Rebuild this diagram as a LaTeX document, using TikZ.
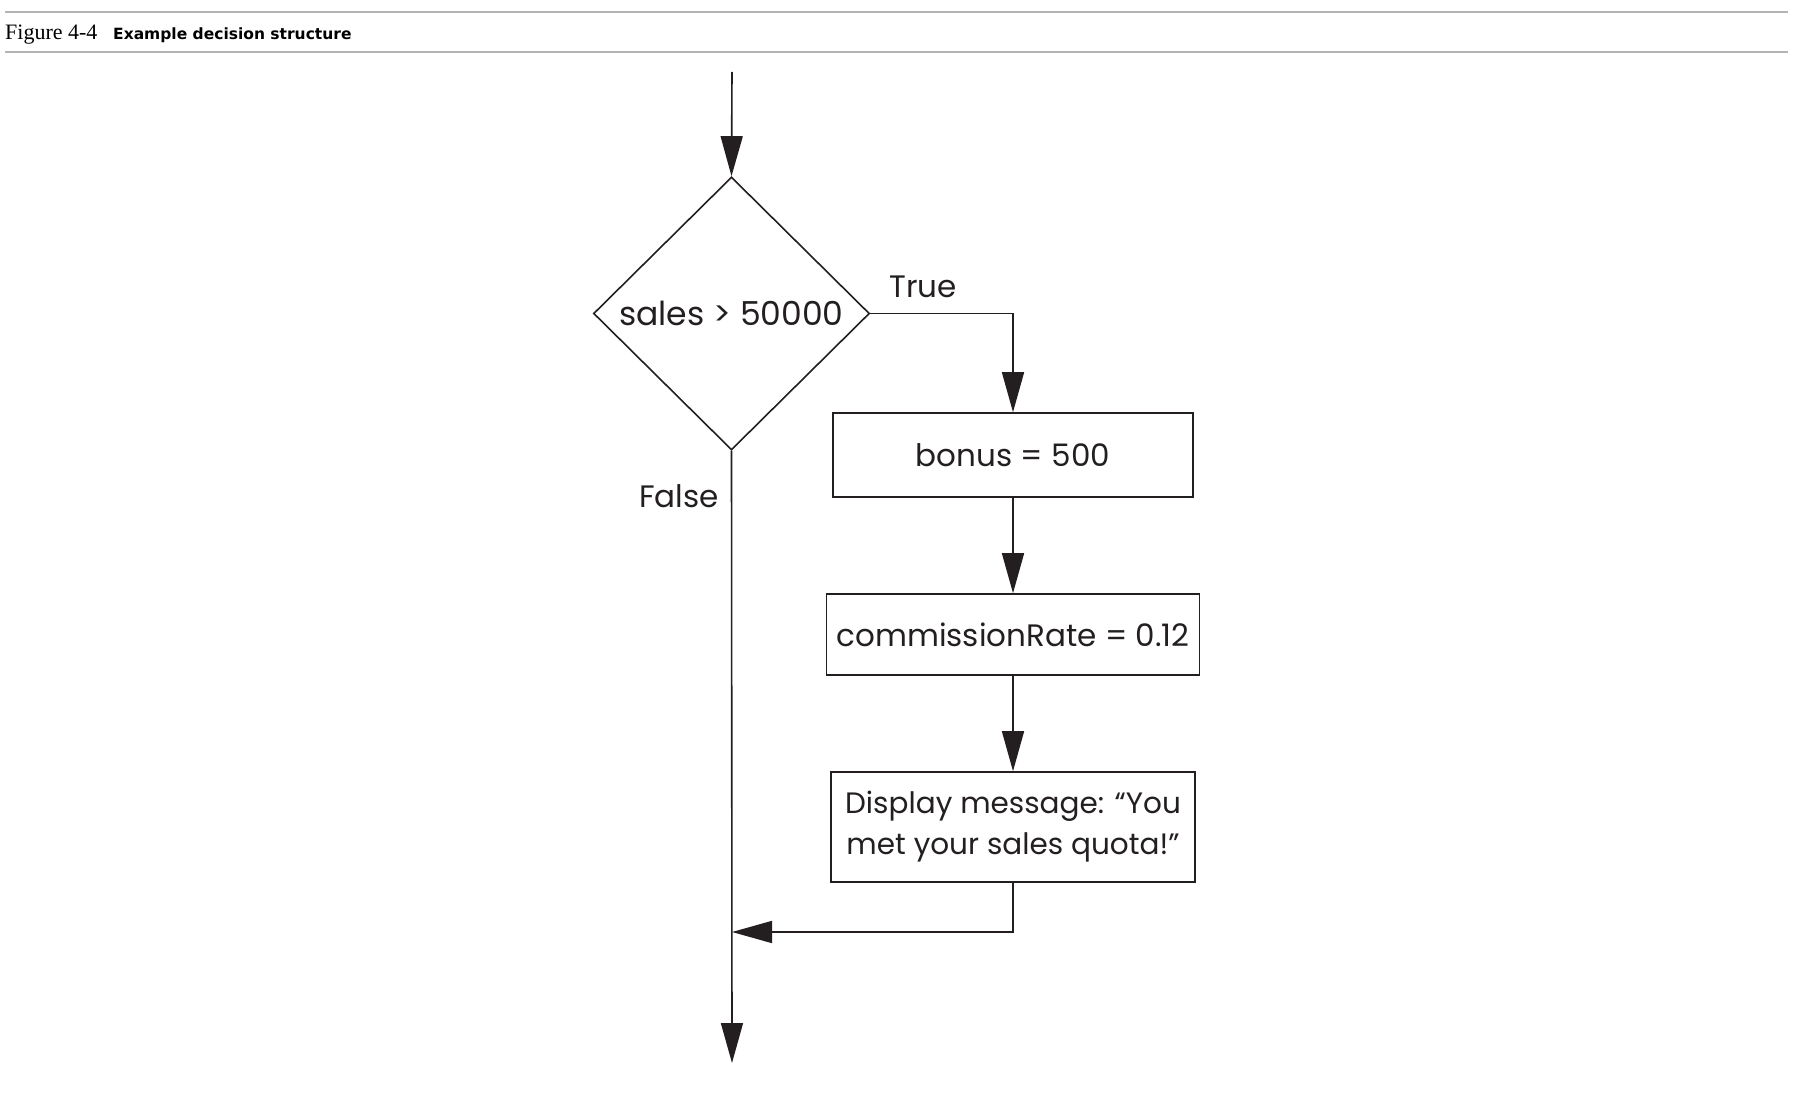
\documentclass[tikz,border=0pt]{standalone}
\usepackage{fontspec}
\setmainfont{Poppins}
\newfontfamily\figserif{Liberation Serif}
\newfontfamily\figsans{DejaVu Sans}
\usetikzlibrary{arrows.meta,shapes.geometric}
\definecolor{ink}{HTML}{231F20}
\definecolor{rulegray}{HTML}{B4B4B4}
\tikzset{
  flowtext/.style={font=\fontsize{31}{40}\selectfont, text=ink},
  procbox/.style={draw=ink, line width=1.6pt, rectangle, inner sep=0pt, flowtext, align=center},
  decbox/.style={draw=ink, line width=1.6pt, diamond, inner sep=0pt, flowtext,
    font=\fontsize{33}{40}\selectfont, minimum width=276pt, minimum height=273pt},
  arr/.style={draw=ink, line width=1.6pt, -{Triangle[length=40pt,width=22pt]}},
  headrule/.style={draw=rulegray, line width=2pt},
  lbl/.style={flowtext, inner sep=0pt}
}
\begin{document}
\begin{tikzpicture}[x=1pt,y=-1pt]
\useasboundingbox (0,0) rectangle (1813,1094);
% header
\draw[headrule] (5,12) -- (1788,12);
\draw[headrule] (5,52) -- (1788,52);
\node[anchor=base west, inner sep=0pt, font=\figserif\fontsize{22}{24}\selectfont] (fignum) at (5,40) {Figure 4-4};
\node[anchor=base west, inner sep=0pt, font=\figsans\bfseries\fontsize{15.5}{20}\selectfont] (figcap) at (113,40) {Example decision structure};
% flowchart nodes
\coordinate (start) at (732,72);
\node[decbox] (dec) at (731.5,313.5) {sales > 50000};
\node[procbox, minimum width=360pt, minimum height=84pt] (bonus) at (1013,455) {bonus = 500};
\node[procbox, minimum width=373pt, minimum height=81pt] (comm) at (1013,634.5) {commissionRate = 0.12};
\node[procbox, minimum width=364pt, minimum height=110pt, font=\fontsize{29.5}{41}\selectfont] (disp) at (1013,827) {Display message: “You\\met your sales quota!”};
\coordinate (merge) at (732,932);
\coordinate (end) at (732,1063);
\node[lbl] (truelbl) at (923,287) {True};
\node[lbl] (falselbl) at (679,496) {False};
% connectors
\draw[arr] (start) -- (dec.north);
\draw[arr] (dec.east) -| (bonus.north);
\draw[arr] (bonus.south) -- (comm.north);
\draw[arr] (comm.south) -- (disp.north);
\draw[arr] (disp.south) |- (merge);
\draw[arr] (dec.south) -- (end);
\end{tikzpicture}
\end{document}
